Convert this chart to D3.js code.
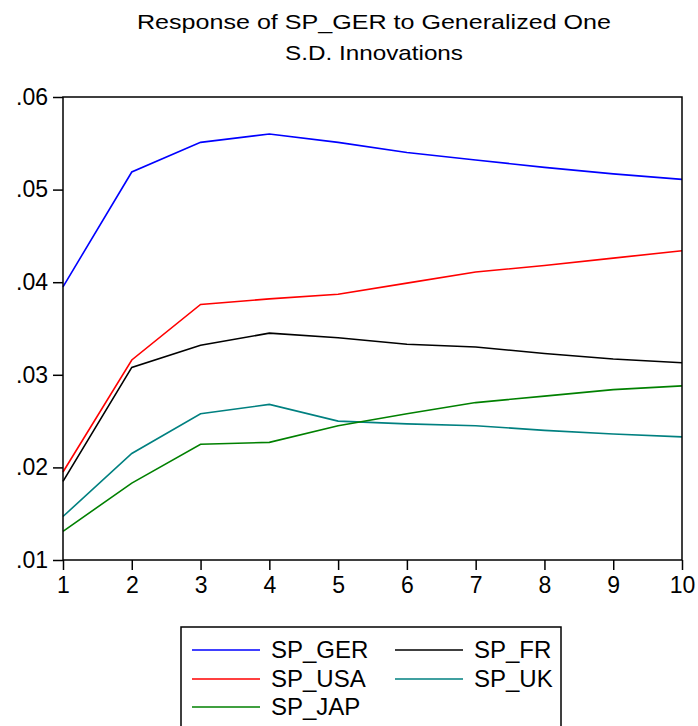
<!doctype html>
<html lang="en">
<head>
<meta charset="utf-8">
<title>Response of SP_GER to Generalized One S.D. Innovations</title>
<script src="https://d3js.org/d3.v7.min.js"></script>
<style>
body { margin: 0; background: #fff; }
svg { display: block; }
text { font-family: 'Liberation Sans', Arial, sans-serif; fill: #000; }
.axis text { font-size: 23px; }
.axis path, .axis line { stroke: #000; stroke-width: 1.5px; }
.frame { fill: none; stroke: #000; stroke-width: 1.5px; }
.series { fill: none; stroke-width: 1.6px; }
text.title { font-size: 21px; }
text.leg { font-size: 24px; }
</style>
</head>
<body>
<svg width="698" height="726"></svg>
<script>
const periods = [1, 2, 3, 4, 5, 6, 7, 8, 9, 10];
const yTicks = [0.01, 0.02, 0.03, 0.04, 0.05, 0.06];

const names = ['SP_GER', 'SP_USA', 'SP_JAP', 'SP_FR', 'SP_UK'];
const colors = ['#0000ff', '#ff0000', '#008000', '#000000', '#008080'];

const spGer = [0.0395, 0.0519, 0.0551, 0.0560, 0.0551, 0.0540, 0.0532, 0.0524, 0.0517, 0.0511];
const spUsa = [0.0195, 0.0316, 0.0376, 0.0382, 0.0387, 0.0399, 0.0411, 0.0418, 0.0426, 0.0434];
const spJap = [0.0131, 0.0183, 0.0225, 0.0227, 0.0245, 0.0258, 0.0270, 0.0277, 0.0284, 0.0288];
const spFr  = [0.0185, 0.0308, 0.0332, 0.0345, 0.0340, 0.0333, 0.0330, 0.0323, 0.0317, 0.0313];
const spUk  = [0.0147, 0.0215, 0.0258, 0.0268, 0.0250, 0.0247, 0.0245, 0.0240, 0.0236, 0.0233];

const values = [spGer, spUsa, spJap, spFr, spUk];
// black and teal go under the coloured ones
const drawOrder = [3, 4, 2, 1, 0];

const svg = d3.select('svg');
const plotLeft = 63, plotRight = 682, plotTop = 97, plotBottom = 560;

const x = d3.scaleLinear().domain([1, 10]).range([plotLeft, plotRight]);
const y = d3.scaleLinear().domain([0.01, 0.06]).range([plotBottom, plotTop]);

// the original text is drawn a bit wider than Liberation Sans, so stretch it
svg.append('text')
  .attr('class', 'title')
  .attr('x', 374).attr('y', 29)
  .attr('text-anchor', 'middle')
  .attr('textLength', 474).attr('lengthAdjust', 'spacingAndGlyphs')
  .text('Response of SP_GER to Generalized One');

svg.append('text')
  .attr('class', 'title')
  .attr('x', 374).attr('y', 60)
  .attr('text-anchor', 'middle')
  .attr('textLength', 178).attr('lengthAdjust', 'spacingAndGlyphs')
  .text('S.D. Innovations');

const line = d3.line()
  .x((d, i) => x(periods[i]))
  .y(d => y(d));

drawOrder.forEach(k => {
  svg.append('path')
    .attr('class', 'series')
    .attr('stroke', colors[k])
    .attr('d', line(values[k]));
});

svg.append('rect')
  .attr('class', 'frame')
  .attr('x', plotLeft).attr('y', plotTop)
  .attr('width', plotRight - plotLeft).attr('height', plotBottom - plotTop);

svg.append('g')
  .attr('class', 'axis')
  .attr('transform', `translate(${plotLeft},0)`)
  .call(d3.axisLeft(y).tickValues(yTicks).tickSize(10).tickPadding(5)
    .tickFormat(d => d3.format('.2f')(d).replace(/^0/, '')))
  .call(g => g.select('.domain').remove());

svg.append('g')
  .attr('class', 'axis')
  .attr('transform', `translate(0,${plotBottom})`)
  .call(d3.axisBottom(x).tickValues(periods).tickSize(10).tickPadding(7)
    .tickFormat(d3.format('d')))
  .call(g => g.select('.domain').remove());

// legend
const legend = svg.append('g');
legend.append('rect')
  .attr('class', 'frame')
  .attr('x', 181).attr('y', 627)
  .attr('width', 380).attr('height', 110);

const legPos = [
  { x: 192, y: 650 }, // GER
  { x: 192, y: 679 }, // USA
  { x: 192, y: 707 }, // JAP
  { x: 395, y: 650 }, // FR
  { x: 395, y: 679 }  // UK
];

names.forEach((n, k) => {
  const p = legPos[k];
  legend.append('line')
    .attr('x1', p.x).attr('x2', p.x + 68)
    .attr('y1', p.y).attr('y2', p.y)
    .attr('stroke', colors[k]).attr('stroke-width', 1.6);
  legend.append('text')
    .attr('class', 'leg')
    .attr('x', p.x + 79).attr('y', p.y + 8)
    .text(n);
});
</script>
</body>
</html>
